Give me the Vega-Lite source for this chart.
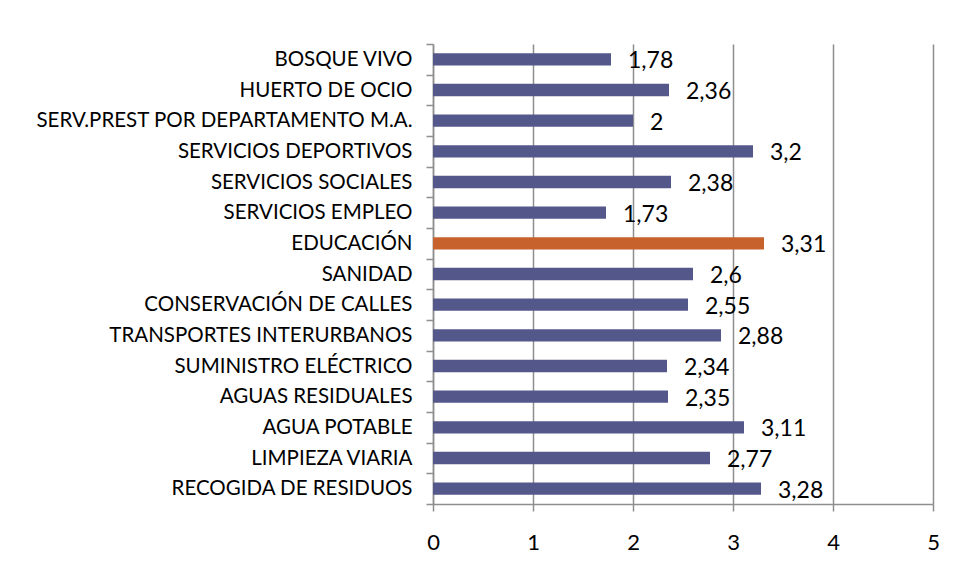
{
  "$schema": "https://vega.github.io/schema/vega-lite/v6.json",
  "autosize": "none",
  "width": 500,
  "height": 460,
  "padding": {"left": 433, "top": 44, "right": 22, "bottom": 77},
  "background": "white",
  "config": {
    "font": "Lato",
    "view": {"stroke": null},
    "locale": {"number": {"decimal": ",", "thousands": ".", "grouping": [3], "currency": ["", " €"]}}
  },
  "data": {
    "values": [
      {"servicio": "BOSQUE VIVO", "valor": 1.78},
      {"servicio": "HUERTO DE OCIO", "valor": 2.36},
      {"servicio": "SERV.PREST POR DEPARTAMENTO M.A.", "valor": 2},
      {"servicio": "SERVICIOS DEPORTIVOS", "valor": 3.2},
      {"servicio": "SERVICIOS SOCIALES", "valor": 2.38},
      {"servicio": "SERVICIOS EMPLEO", "valor": 1.73},
      {"servicio": "EDUCACIÓN", "valor": 3.31},
      {"servicio": "SANIDAD", "valor": 2.6},
      {"servicio": "CONSERVACIÓN DE CALLES", "valor": 2.55},
      {"servicio": "TRANSPORTES INTERURBANOS", "valor": 2.88},
      {"servicio": "SUMINISTRO ELÉCTRICO", "valor": 2.34},
      {"servicio": "AGUAS RESIDUALES", "valor": 2.35},
      {"servicio": "AGUA POTABLE ", "valor": 3.11},
      {"servicio": "LIMPIEZA VIARIA", "valor": 2.77},
      {"servicio": "RECOGIDA DE RESIDUOS", "valor": 3.28}
    ]
  },
  "encoding": {
    "y": {
      "field": "servicio",
      "type": "nominal",
      "sort": null,
      "scale": {"paddingInner": 0, "paddingOuter": 0},
      "axis": {
        "title": null,
        "tickBand": "extent",
        "domainColor": "#8e8e8e",
        "domainWidth": 1.5,
        "tickColor": "#8e8e8e",
        "tickWidth": 1.5,
        "tickSize": 7,
        "labelFont": "Lato",
        "labelFontSize": 20.5,
        "labelColor": "black",
        "labelPadding": 14,
        "labelLimit": 500
      }
    },
    "x": {
      "field": "valor",
      "type": "quantitative",
      "scale": {"domain": [0, 5], "nice": false},
      "axis": {
        "title": null,
        "values": [0, 1, 2, 3, 4, 5],
        "grid": true,
        "gridColor": "#8e8e8e",
        "gridWidth": 1.5,
        "domainColor": "#8e8e8e",
        "domainWidth": 1.5,
        "tickColor": "#8e8e8e",
        "tickWidth": 1.5,
        "tickSize": 7,
        "labelFont": "Lato",
        "labelFontSize": 22,
        "labelColor": "black",
        "labelPadding": 21,
        "labelFlush": false
      }
    }
  },
  "layer": [
    {
      "mark": {"type": "bar", "height": {"band": 0.4}},
      "encoding": {
        "color": {
          "condition": {"test": "datum.servicio === 'EDUCACIÓN'", "value": "#C7622D"},
          "value": "#545789"
        }
      }
    },
    {
      "mark": {"type": "text", "align": "left", "baseline": "middle", "dx": 17, "dy": 2, "fontSize": 23, "font": "Lato", "color": "black"},
      "encoding": {
        "text": {"field": "valor", "type": "quantitative", "format": ".3~g"}
      }
    }
  ]
}
